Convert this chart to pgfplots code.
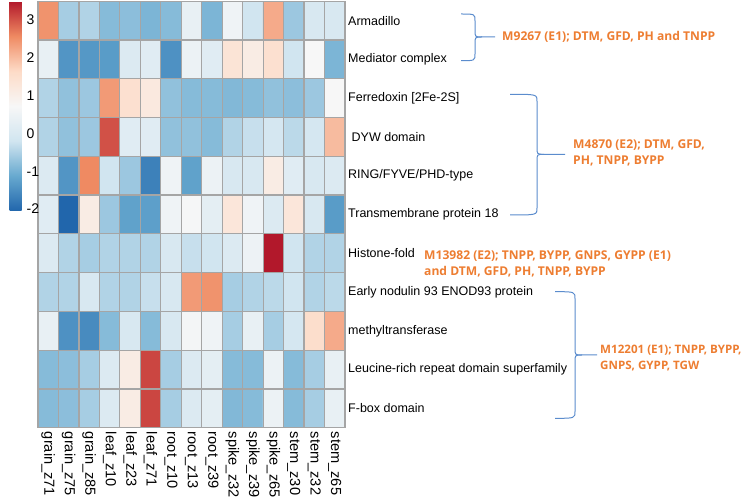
\documentclass[border=0pt]{standalone}
\usepackage{pgfplots}
\pgfplotsset{compat=1.18}
\usepackage{fontspec}
\setmainfont{Liberation Sans}
\newfontfamily\annfont{Open Sans}
\definecolor{gridgray}{RGB}{165,165,165}
\definecolor{annorange}{RGB}{237,125,49}
\definecolor{bracecol}{RGB}{91,140,205}
\pgfkeys{/pgf/number format/assume math mode=true}
\newcommand{\lblfont}{\fontsize{12.5}{14}\selectfont}
\newcommand{\xlblfont}{\fontsize{14.6}{16}\selectfont}
\newcommand{\cbrace}[6]{%
 \draw[bracecol, line width=1pt]
   ({#1pt},{-#2pt}) .. controls ({#4pt},{-#2pt}) .. ({#4pt},{-#2pt-7pt})
   -- ({#4pt},{-#5pt+7pt}) .. controls ({#4pt},{-#5pt}) .. ({#4pt+7pt},{-#5pt})
   -- ({#6pt},{-#5pt});
 \draw[bracecol, line width=1pt]
   ({#1pt},{-#3pt}) .. controls ({#4pt},{-#3pt}) .. ({#4pt},{-#3pt+7pt})
   -- ({#4pt},{-#5pt-7pt}) .. controls ({#4pt},{-#5pt}) .. ({#4pt+7pt},{-#5pt});
}
\begin{document}
\begin{tikzpicture}
\useasboundingbox (0,0) rectangle (745pt,-502pt);
\begin{axis}[
  at={(38pt,-1.2pt)}, anchor=north west,
  scale only axis, width=307pt, height=426.5pt,
  xmin=-0.5, xmax=14.5, ymin=-0.5, ymax=10.5, y dir=reverse,
  enlargelimits=false,
  colormap={rdbu}{rgb255=(33,102,172) rgb255=(103,169,207) rgb255=(209,229,240) rgb255=(247,247,247) rgb255=(253,219,199) rgb255=(239,138,98) rgb255=(178,24,43)},
  point meta min=-2.05, point meta max=3.5,
  xtick={0,...,14}, ytick={0,...,10},
  xticklabels={grain\_z71,grain\_z75,grain\_z85,leaf\_z10,leaf\_z23,leaf\_z71,root\_z10,root\_z13,root\_z39,spike\_z32,spike\_z39,spike\_z65,stem\_z30,stem\_z32,stem\_z65},
  yticklabels={Armadillo,Mediator complex,{Ferredoxin [2Fe-2S]},{\hspace{3.5pt}DYW domain},RING/FYVE/PHD-type,Transmembrane protein 18,Histone-fold,Early nodulin 93 ENOD93 protein,methyltransferase,Leucine-rich repeat domain superfamily,F-box domain},
  major tick length=0pt,
  yticklabel pos=right,
  xticklabel style={rotate=-90, anchor=west, inner sep=0pt, font=\xlblfont},
  yticklabel style={anchor=west, inner sep=0pt, font=\lblfont},
  xticklabel shift=4pt, yticklabel shift=3pt,
  minor xtick={0.5,1.5,...,13.5}, minor ytick={0.5,1.5,...,9.5},
  minor tick length=0pt,
  minor grid style={gridgray, line width=1.2pt},
  grid=minor,
  axis on top,
  axis line style={gridgray, line width=1.2pt},
  colorbar,
  colorbar style={at={(parent axis.north west)}, anchor=north west, xshift=-37pt,
    width=12pt, height=209.7pt, scale only axis, ytick={-2,...,3},
    major tick length=0pt, axis line style={draw=none},
    yticklabel style={font=\fontsize{14}{16}\selectfont, inner sep=0pt}, yticklabel shift=5pt},
]
\addplot [matrix plot*, mesh/cols=15, point meta=explicit] coordinates {
(0,0)[2.48] (1,0)[-0.57] (2,0)[-0.48] (3,0)[-0.85] (4,0)[-0.80] (5,0)[-0.94] (6,0)[-0.85] (7,0)[0.36] (8,0)[-0.94] (9,0)[0.54] (10,0)[-0.20] (11,0)[2.21] (12,0)[-0.66] (13,0)[-0.02] (14,0)[-0.02]

(0,1)[0.36] (1,1)[-1.40] (2,1)[-1.36] (3,1)[-1.31] (4,1)[0.08] (5,1)[0.17] (6,1)[-1.45] (7,1)[0.45] (8,1)[0.17] (9,1)[1.37] (10,1)[1.10] (11,1)[1.47] (12,1)[-0.20] (13,1)[0.73] (14,1)[-0.94]

(0,2)[-0.48] (1,2)[-0.76] (2,2)[-0.66] (3,2)[2.39] (4,2)[1.47] (5,2)[1.19] (6,2)[-0.76] (7,2)[-0.85] (8,2)[-0.85] (9,2)[-0.89] (10,2)[-0.85] (11,2)[-0.76] (12,2)[-0.80] (13,2)[-0.66] (14,2)[0.73]

(0,3)[-0.48] (1,3)[-0.76] (2,3)[-0.66] (3,3)[3.04] (4,3)[0.17] (5,3)[0.17] (6,3)[-0.76] (7,3)[-0.76] (8,3)[-0.85] (9,3)[-0.48] (10,3)[-0.29] (11,3)[-0.11] (12,3)[-0.39] (13,3)[-0.11] (14,3)[2.02]

(0,4)[0.08] (1,4)[-1.40] (2,4)[2.58] (3,4)[-0.20] (4,4)[-0.66] (5,4)[-1.68] (6,4)[0.54] (7,4)[-1.22] (8,4)[0.45] (9,4)[-0.02] (10,4)[-0.02] (11,4)[1.10] (12,4)[0.17] (13,4)[-0.02] (14,4)[0.08]

(0,5)[0.17] (1,5)[-2.05] (2,5)[1.10] (3,5)[-0.66] (4,5)[-1.22] (5,5)[-1.26] (6,5)[0.54] (7,5)[0.68] (8,5)[0.26] (9,5)[1.28] (10,5)[0.54] (11,5)[0.08] (12,5)[1.28] (13,5)[-0.02] (14,5)[-1.31]

(0,6)[0.08] (1,6)[-0.48] (2,6)[-0.57] (3,6)[-0.48] (4,6)[-0.48] (5,6)[-0.48] (6,6)[-0.02] (7,6)[-0.29] (8,6)[-0.20] (9,6)[0.08] (10,6)[0.49] (11,6)[3.50] (12,6)[-0.20] (13,6)[-0.48] (14,6)[-0.48]

(0,7)[-0.48] (1,7)[-0.48] (2,7)[-0.02] (3,7)[-0.48] (4,7)[-0.48] (5,7)[-0.29] (6,7)[-0.02] (7,7)[2.39] (8,7)[2.48] (9,7)[-0.57] (10,7)[-0.48] (11,7)[-0.39] (12,7)[-0.20] (13,7)[-0.48] (14,7)[-0.39]

(0,8)[0.36] (1,8)[-1.45] (2,8)[-1.54] (3,8)[-0.85] (4,8)[-0.02] (5,8)[-0.85] (6,8)[-0.02] (7,8)[0.63] (8,8)[0.54] (9,8)[-0.57] (10,8)[0.36] (11,8)[-0.57] (12,8)[-0.11] (13,8)[1.56] (14,8)[2.21]

(0,9)[-0.85] (1,9)[-0.80] (2,9)[-0.57] (3,9)[0.08] (4,9)[1.10] (5,9)[3.13] (6,9)[-0.57] (7,9)[0.08] (8,9)[0.26] (9,9)[-0.85] (10,9)[-0.85] (11,9)[0.45] (12,9)[-0.85] (13,9)[-0.57] (14,9)[0.36]

(0,10)[-0.85] (1,10)[-0.80] (2,10)[-0.57] (3,10)[0.08] (4,10)[1.10] (5,10)[3.13] (6,10)[-0.57] (7,10)[0.08] (8,10)[0.26] (9,10)[-0.89] (10,10)[-0.85] (11,10)[0.45] (12,10)[-0.85] (13,10)[-0.57] (14,10)[0.36]
};
\end{axis}
\cbrace{461}{14}{60.7}{475}{37}{495}
\cbrace{510}{94.3}{215}{537}{154.3}{565}
\cbrace{555}{291.7}{418.3}{575}{355}{597}
\begin{scope}[every node/.style={anchor=west, text=annorange, align=left, inner sep=0pt, font=\annfont\bfseries\fontsize{12.1}{16}\selectfont}]
\node at (502pt,-37.3pt) {M9267 (E1); DTM, GFD, PH and TNPP};
\node at (573pt,-153pt) {M4870 (E2); DTM, GFD,\\PH, TNPP, BYPP};
\node at (424pt,-264pt) {M13982 (E2); TNPP, BYPP, GNPS, GYPP (E1)\\and DTM, GFD, PH, TNPP, BYPP};
\node[font=\annfont\bfseries\fontsize{11.6}{16}\selectfont] at (600pt,-358pt) {M12201 (E1); TNPP, BYPP,\\GNPS, GYPP, TGW};
\end{scope}
\end{tikzpicture}
\end{document}
